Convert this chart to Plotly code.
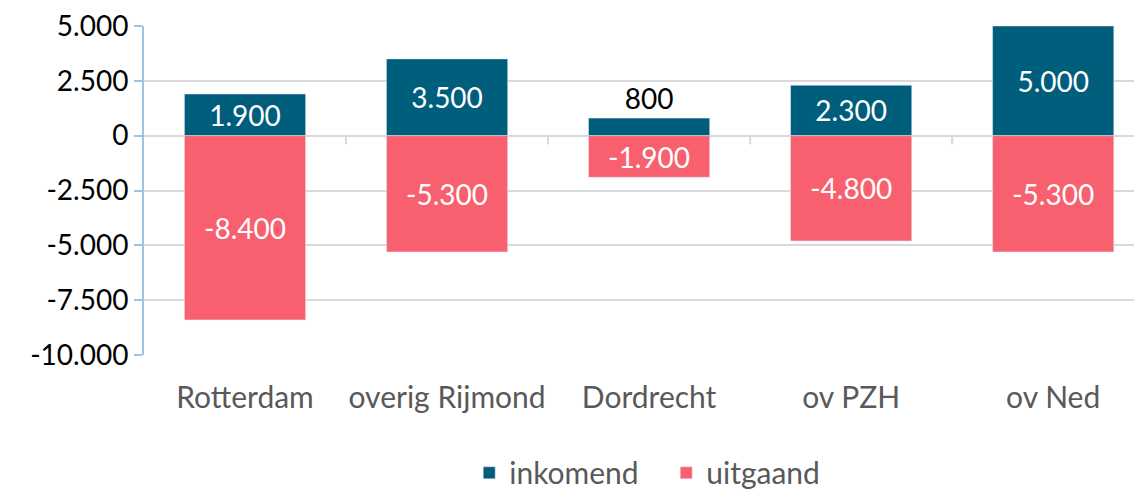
import plotly.graph_objects as go

categories = ["Rotterdam", "overig Rijmond", "Dordrecht", "ov PZH", "ov Ned"]
inkomend = [1900, 3500, 800, 2300, 5000]
uitgaand = [-8400, -5300, -1900, -4800, -5300]
y_ticks = [5000, 2500, 0, -2500, -5000, -7500, -10000]


def nl(v):
    s = f"{abs(v):,}".replace(",", ".")
    return ("-" if v < 0 else "") + s


TEAL = "#005E7D"
PINK = "#F8606F"
FONT = "Lato"

fig = go.Figure()
fig.add_trace(go.Bar(
    x=categories, y=inkomend, name="inkomend", marker_color=TEAL,
    text=[nl(v) for v in inkomend],
    textposition=["inside" if v >= 1500 else "outside" for v in inkomend],
    insidetextanchor="middle",
    insidetextfont=dict(color="white", size=28, family=FONT),
    outsidetextfont=dict(color="black", size=28, family=FONT),
    textangle=0, cliponaxis=False,
))
fig.add_trace(go.Bar(
    x=categories, y=uitgaand, name="uitgaand", marker_color=PINK,
    text=[nl(v) for v in uitgaand], textposition="inside",
    insidetextanchor="middle",
    insidetextfont=dict(color="white", size=28, family=FONT),
    textangle=0,
))

shapes = [dict(type="line", xref="x", yref="y", x0=i + 0.5, x1=i + 0.5,
               y0=0, y1=-400, line=dict(color="#D9D9D9", width=2))
          for i in range(len(categories) - 1)]

fig.update_layout(
    width=1134, height=490,
    margin=dict(l=144, r=0, t=26, b=135, autoexpand=False),
    barmode="relative", bargap=0.4,
    plot_bgcolor="white", paper_bgcolor="white",
    font=dict(family=FONT, size=28, color="black"),
    uniformtext=dict(mode=False),
    shapes=shapes,
    legend=dict(orientation="h", x=0.5275, xanchor="center", y=-0.358, yanchor="middle",
                font=dict(size=30, color="#595959", family=FONT),
                traceorder="normal", itemwidth=30, entrywidth=152),
    xaxis=dict(range=[-0.5, 4.4], showgrid=False, showline=False, zeroline=False,
               automargin=False,
               ticks="", tickfont=dict(size=30, color="#595959", family=FONT),
               ticklabelstandoff=22),
    yaxis=dict(range=[-10000, 5000], tickvals=y_ticks, ticktext=[nl(v) for v in y_ticks],
               automargin=False,
               showgrid=True, gridcolor="#D9D9D9", gridwidth=1.5,
               zeroline=True, zerolinecolor="#D9D9D9", zerolinewidth=2,
               showline=True, linecolor="#9DC3E6", linewidth=2,
               ticks="outside", ticklen=8, tickcolor="#9DC3E6", tickwidth=2,
               tickfont=dict(size=28, color="black", family=FONT)),
)

fig.write_html("out.html", config={"displayModeBar": False},
               post_script="document.body.style.margin='0';document.body.style.overflow='hidden';")
